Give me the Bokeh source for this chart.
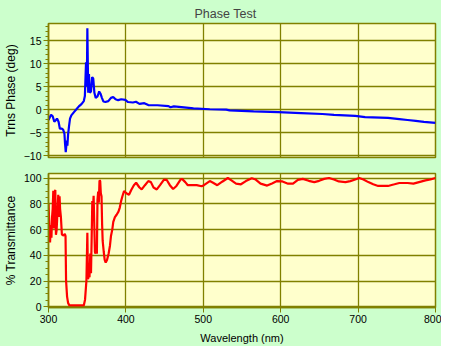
from bokeh.plotting import figure
from bokeh.layouts import column
from bokeh.models import FixedTicker, Range1d
from bokeh.embed import file_html
from bokeh.resources import INLINE

# ---- data ----
wl_phase = [300, 303.3, 305.4, 307.5, 309.6, 311, 313, 314.7, 317.2, 318.9, 320.6, 321.4,
            322.3, 323.6, 324.4, 325.3, 326.5, 327.8, 329.5, 332.9, 335.8, 339.2, 342.6,
            345.6, 347, 348.5, 349.5, 350.2, 351.3, 352.3, 353.2, 354.9, 356.4, 357.8,
            359.3, 361, 363.3, 365.5, 367.2, 369, 371, 373.5, 377.3, 380.7, 383.6, 386.6,
            390, 394, 399.3, 402.7, 409, 413, 417.5, 423.8, 428.9, 440.7, 455, 457.6, 462,
            475, 487.3, 508.4, 529.6, 534, 565, 596.8, 626.4, 653.9, 668.8, 696.3, 709,
            738.6, 753.3, 763.9, 774.5, 785, 800]
phase = [-2.2, -1.05, -1.4, -2.6, -2.2, -1.9, -2.6, -4.1, -4.1, -4.3, -5.2, -7.4,
         -9.2, -6.7, -7.8, -5.4, -3.6, -1.9, -1.2, -0.5, 0.06, 0.75, 1.25,
         1.9, 3.0, 10.3, 5.1, 17.7, 3.7, 7.8, 3.7, 4.0, 7.1, 6.8,
         3.7, 2.6, 2.9, 4.0, 3.5, 2.6, 1.8, 1.7, 1.9, 2.6, 2.8, 2.3,
         2.1, 2.3, 2.15, 1.7, 1.6, 1.75, 1.3, 1.45, 1.04, 1.0, 0.8, 0.55, 0.75,
         0.55, 0.33, 0.13, 0.06, -0.1, -0.35, -0.5, -0.7, -0.9, -1.1, -1.3, -1.6,
         -1.75, -2.0, -2.2, -2.4, -2.6, -2.85]

wl_trans = [300, 302, 303, 303.8, 304.6, 305.4, 306.2, 307.1, 307.9, 308.8, 309.6, 310.5,
            312, 312.6, 313.4, 314.3, 315, 316, 317.3, 319.4, 321.1, 322, 322.7, 324,
            325.3, 327, 345.6, 347.2, 349, 350.2, 351, 352.3, 353, 354, 354.9, 355.7,
            356.6, 357.4, 358.3, 359.1, 360, 360.8, 361.7, 362.5, 363.3, 364.2, 365,
            365.9, 366.8, 367.6, 368.5, 369.3, 370, 371.4, 372.6, 373.9, 375.6, 377.7,
            379.4, 380.7, 382.4, 383.7, 385.8, 388, 390.4, 392.1, 393.8, 395.5, 397.6,
            400.6, 404, 406.9, 410.3, 413.2, 417.5, 420.4, 424.6, 428.9, 432.3, 435.7,
            439.9, 444.1, 449.2, 452.6, 456.8, 461, 465.3, 470.4, 472.5, 476.7, 480,
            491.5, 497.8, 500.8, 508.4, 512.6, 518.1, 524.4, 531.7, 535.9, 542.3, 548.6,
            555, 562.6, 567.7, 574, 582.5, 588.8, 595.2, 602.3, 609.5, 615.9, 622.2,
            628.6, 636.2, 643.4, 649.7, 656.1, 662.4, 668.8, 675.1, 683.6, 689.9, 696.3,
            701.4, 706.9, 713.2, 719.5, 725.9, 738.6, 747, 753.3, 763.9, 771.5, 778.7,
            787.1, 793.4, 800]
trans = [80, 50, 63.5, 53.7, 69.8, 76, 90.3, 61, 89.6, 90.8, 56, 59.7,
         79, 87.1, 69.8, 86, 76, 70, 56.2, 55.5, 56.7, 55, 20.3, 7.9,
         3, 1.0, 1.0, 5.5, 20.3, 57.5, 21.5, 24, 23, 41.4, 26, 51.2,
         82.2, 76, 86.4, 64.9, 42.6, 41.4, 45, 41.3, 83.4, 89.6, 81,
         98.3, 97.9, 88.3, 86, 63.6, 51.2, 42.6, 36.4, 34.4, 36.4, 41.4,
         47.5, 55, 60, 66, 69.8, 71.6, 74, 77.2, 82.2, 86, 90.1,
         88.3, 87.1, 90.9, 94.6, 96.5, 92.8, 91.3, 94.6, 97.8, 97, 92.8,
         91.3, 94.6, 99, 98.8, 94.6, 91.6, 94, 98.8, 99.5, 97, 94.6,
         94.6, 93.8, 94.6, 97.8, 96.5, 94.6, 97.3, 100.2, 98.5, 95.8, 95.3,
         97.8, 100, 99, 95.8, 94.3, 96, 97.8, 97.5, 95.8, 95.8, 98.8,
         99.5, 98, 97, 98, 99.5, 100.2, 99, 97.5, 97, 97.8, 99,
         100.2, 99, 97, 95.3, 94, 94, 95.3, 96.3, 96.3, 95.8, 97,
         98.3, 99, 100.2]

x_ticks = [300, 400, 500, 600, 700, 800]
phase_ticks = [-10, -5, 0, 5, 10, 15]
phase_minor = list(range(-10, 19))
trans_ticks = [0, 20, 40, 60, 80, 100]
trans_minor = list(range(0, 105, 5))

PAGE_BG = "#CCFFCC"
PLOT_BG = "#FFFFCC"
OLIVE = "#808000"
FONT = "Liberation Sans"
TICK_FS = "10.5px"
LABEL_FS = "12px"


def style(p):
    p.background_fill_color = PLOT_BG
    p.border_fill_color = PAGE_BG
    p.outline_line_color = OLIVE
    p.outline_line_width = 1.5
    for g in p.grid:
        g.grid_line_color = OLIVE
        g.grid_line_width = 1.3
        g.grid_line_alpha = 1.0
    for ax in p.axis:
        ax.axis_line_color = OLIVE
        ax.axis_line_width = 1.5
        ax.major_tick_line_color = OLIVE
        ax.minor_tick_line_color = OLIVE
        ax.major_tick_in = 0
        ax.minor_tick_in = 0
        ax.major_tick_out = 5
        ax.minor_tick_out = 3
        ax.major_label_text_font = FONT
        ax.major_label_text_font_size = TICK_FS
        ax.major_label_text_color = "black"
        ax.major_label_standoff = 2
        ax.axis_label_text_font = FONT
        ax.axis_label_text_font_size = LABEL_FS
        ax.axis_label_text_font_style = "normal"
        ax.axis_label_text_color = "black"
        ax.axis_label_standoff = 3


# whole layout: 441 x 346 so it fits the 457 x 362 window with its 8px margin
p1 = figure(width=441, height=165, output_backend="svg", toolbar_location=None,
            x_range=Range1d(300, 800), y_range=Range1d(-10.35, 18.75),
            min_border_left=47, min_border_right=6, min_border_top=23, min_border_bottom=8)
p1.line(wl_phase, phase, line_color="#0000FF", line_width=2.2)
style(p1)
p1.xaxis.visible = False
p1.xgrid.ticker = FixedTicker(ticks=x_ticks)
p1.yaxis.ticker = FixedTicker(ticks=phase_ticks, minor_ticks=phase_minor)
p1.ygrid.ticker = FixedTicker(ticks=phase_ticks)
p1.yaxis.axis_label = "Trns Phase (deg)"
p1.title.text = "Phase Test"
p1.title.text_font = FONT
p1.title.text_font_size = "12.5px"
p1.title.text_font_style = "normal"
p1.title.align = "left"
p1.title.offset = 146
p1.title.standoff = 6

p2 = figure(width=441, height=181, output_backend="svg", toolbar_location=None,
            x_range=Range1d(300, 800), y_range=Range1d(-0.6, 103.7),
            min_border_left=47, min_border_right=6, min_border_top=8, min_border_bottom=39)
p2.line(wl_trans, trans, line_color="#FF0000", line_width=2.2)
style(p2)
p2.xaxis.ticker = FixedTicker(ticks=x_ticks)
p2.xaxis.minor_tick_out = 0
p2.xaxis.axis_label = "Wavelength (nm)"
p2.xaxis.axis_label_text_font_size = "11px"
p2.xaxis.axis_label_standoff = 6
p2.xgrid.ticker = FixedTicker(ticks=x_ticks)
p2.yaxis.ticker = FixedTicker(ticks=trans_ticks, minor_ticks=trans_minor)
p2.ygrid.ticker = FixedTicker(ticks=trans_ticks)
p2.yaxis.axis_label = "% Transmittance"

layout = column(p1, p2, spacing=0)
layout.styles = {"background-color": PAGE_BG}

open("out.html", "w").write(file_html(layout, INLINE))
